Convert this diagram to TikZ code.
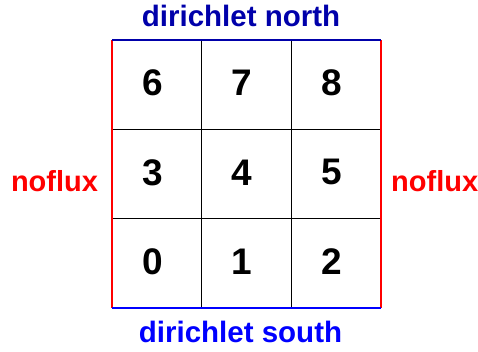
\documentclass[tikz,border=0pt]{standalone}
\usepackage{fontspec}
\setmainfont{Liberation Sans}
\definecolor{dblue}{RGB}{0,0,170}
\definecolor{lblue}{RGB}{0,0,255}
\definecolor{rred}{RGB}{255,0,0}
\begin{document}
\begin{tikzpicture}[x=1pt,y=1pt,
  gridline/.style={black,line width=0.8pt},
  redside/.style={rred,line width=2pt},
  blueside/.style={line width=2.4pt},
  digit/.style={font=\fontsize{37}{40}\selectfont\bfseries,inner sep=0pt,anchor=center},
  lab/.style={font=\fontsize{29.5}{32}\selectfont\bfseries,inner sep=0pt,anchor=base},
  sidelab/.style={font=\fontsize{29}{32}\selectfont\bfseries,inner sep=0pt,anchor=base}]
\useasboundingbox (0,0) rectangle (478,352);
% corners
\coordinate (sw) at (112,44);
\coordinate (se) at (381,44);
\coordinate (nw) at (112,312);
\coordinate (ne) at (381,312);
% internal grid
\coordinate (v1b) at (201.7,44); \coordinate (v1t) at (201.7,312);
\coordinate (v2b) at (291.3,44); \coordinate (v2t) at (291.3,312);
\coordinate (h1l) at (112,133.3); \coordinate (h1r) at (381,133.3);
\coordinate (h2l) at (112,222.7); \coordinate (h2r) at (381,222.7);
\draw[gridline] (v1b) -- (v1t);
\draw[gridline] (v2b) -- (v2t);
\draw[gridline] (h1l) -- (h1r);
\draw[gridline] (h2l) -- (h2r);
% boundaries
\draw[redside] (sw) -- (nw);
\draw[redside] (se) -- (ne);
\draw[blueside,dblue] (nw) -- (ne);
\draw[blueside,lblue] (sw) -- (se);
% digits
\node[digit] (c0) at (152.3,90.3) {0};
\node[digit] (c1) at (242,90.3) {1};
\node[digit] (c2) at (331.8,90.3) {2};
\node[digit] (c3) at (152.3,179.7) {3};
\node[digit] (c4) at (242,179.7) {4};
\node[digit] (c5) at (331.8,179.7) {5};
\node[digit] (c6) at (152.3,269) {6};
\node[digit] (c7) at (242,269) {7};
\node[digit] (c8) at (331.8,269) {8};
% labels
\node[lab,text=dblue] (north) at (241,325) {dirichlet north};
\node[lab,text=lblue] (south) at (240.5,9) {dirichlet south};
\node[sidelab,text=rred] (west) at (54.5,160) {noflux};
\node[sidelab,text=rred] (east) at (434.7,160) {noflux};
\end{tikzpicture}
\end{document}
